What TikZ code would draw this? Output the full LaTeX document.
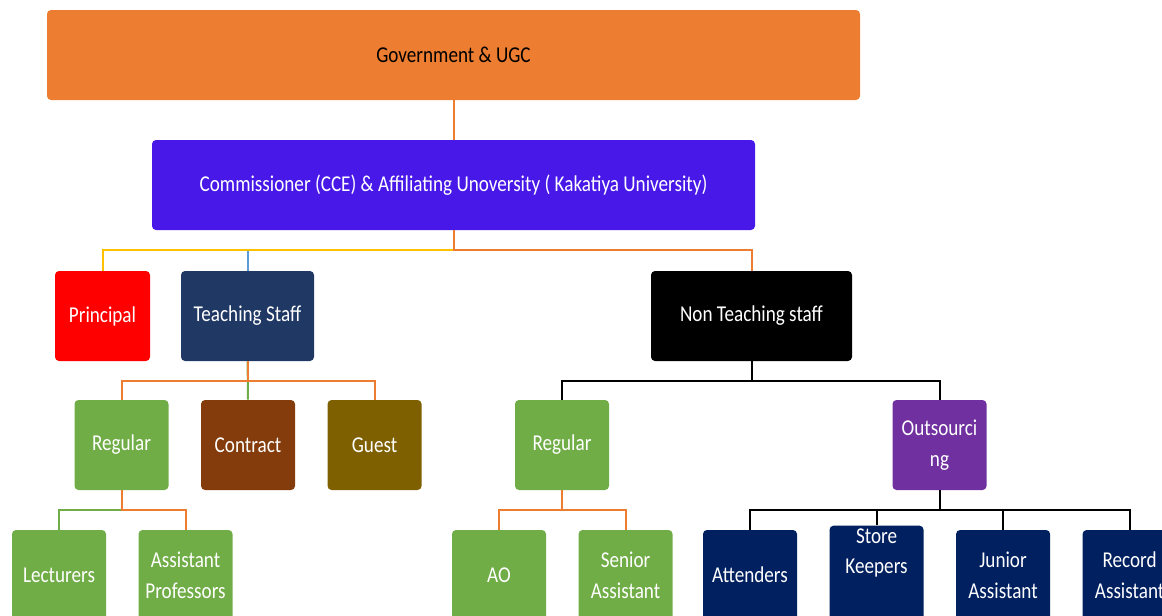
\documentclass[tikz,border=0pt]{standalone}
\usepackage{fontspec}
\setmainfont{Carlito}[FakeStretch=0.845]
\usepackage{xcolor}
\usepackage{tikz}
\usetikzlibrary{positioning}

\definecolor{ugcorange}{HTML}{ED7D31}
\definecolor{cceviolet}{HTML}{4818E8}
\definecolor{staffnavy}{HTML}{203864}
\definecolor{regreen}{HTML}{70AD47}
\definecolor{contbrown}{HTML}{843C0C}
\definecolor{guestolive}{HTML}{7F6000}
\definecolor{outpurple}{HTML}{7030A0}
\definecolor{postnavy}{HTML}{002060}
\definecolor{busyellow}{HTML}{FFC000}
\definecolor{busblue}{HTML}{5B9BD5}

\begin{document}
\begin{tikzpicture}[
    x=0.75pt, y=-0.75pt,
    node distance=24pt,
    box/.style={rectangle, rounded corners=3pt, text=white, align=center, minimum height=67.5pt, inner sep=2pt, font=\fontsize{17}{23}\selectfont},
    unit/.style={box, minimum width=70.5pt},
    link/.style={line width=1.5pt}
]
\useasboundingbox (0,0) rectangle (1162,615);
\clip (0,0) rectangle (1162,615);

% Nodes
\node[box, fill=ugcorange, text=black, minimum width=609.75pt] (govt) at (453.5,55) {Government \& UGC};
\node[box, fill=cceviolet, minimum width=452.25pt] (cce) at (453.5,185) {Commissioner (CCE) \& Affiliating Unoversity ( Kakatiya University)};

\node[box, fill=red, minimum width=71.25pt] (principal) at (102.5,316) {Principal};
\node[box, fill=staffnavy, minimum width=99.75pt] (teaching) at (247.5,316) {Teaching Staff};
\node[box, fill=black, minimum width=150.75pt] (nonteaching) at (751.5,316) {Non Teaching staff};

\node[unit, fill=regreen] (tregular) at (121.5,445) {Regular};
\node[unit, fill=contbrown, right=of tregular] (contract) {Contract};
\node[unit, fill=guestolive, right=of contract] (guest) {Guest};
\node[unit, fill=regreen] (ntregular) at (562,445) {Regular};
\node[unit, fill=outpurple] (outsourcing) at (939.5,445) {Outsourci\\ng};

\node[unit, fill=regreen] (lecturers) at (59,575) {Lecturers};
\node[unit, fill=regreen, right=of lecturers] (asstprof) {Assistant\\Professors};
\node[unit, fill=regreen] (ao) at (499,575) {AO};
\node[unit, fill=regreen, right=of ao] (senior) {Senior\\Assistant};
\node[unit, fill=postnavy] (attenders) at (750,575) {Attenders};
\node[unit, fill=postnavy, right=of attenders, text depth=36pt] (storekeep) {Store\\Keepers};
\node[unit, fill=postnavy, right=of storekeep] (junior) {Junior\\Assistant};
\node[unit, fill=postnavy, right=of junior] (record) {Record\\Assistant};

% Edges
\draw[link, ugcorange] (govt) -- (cce);
\draw[link, busblue] (cce.south) -- ++(0,20) -| (teaching.north);
\draw[link, busyellow] (cce.south) -- ++(0,20) -| (principal.north);
\draw[link, ugcorange] (cce.south) -- ++(0,20) -| (nonteaching.north);

\draw[link, regreen] (teaching) -- (contract);
\draw[link, ugcorange] (teaching.south) -- ++(0,20) -| (tregular.north);
\draw[link, ugcorange] (teaching.south) -- ++(0,20) -| (guest.north);

\draw[link, regreen] (tregular.south) -- ++(0,20) -| (lecturers.north);
\draw[link, ugcorange] (tregular.south) -- ++(0,20) -| (asstprof.north);

\draw[link] (nonteaching.south) -- ++(0,20) -| (ntregular.north);
\draw[link] (nonteaching.south) -- ++(0,20) -| (outsourcing.north);

\draw[link, ugcorange] (ntregular.south) -- ++(0,20) -| (ao.north);
\draw[link, ugcorange] (ntregular.south) -- ++(0,20) -| (senior.north);

\draw[link] (outsourcing.south) -- ++(0,20) -| (attenders.north);
\draw[link] (outsourcing.south) -- ++(0,20) -| (storekeep.north);
\draw[link] (outsourcing.south) -- ++(0,20) -| (junior.north);
\draw[link] (outsourcing.south) -- ++(0,20) -| (record.north);

\end{tikzpicture}
\end{document}
